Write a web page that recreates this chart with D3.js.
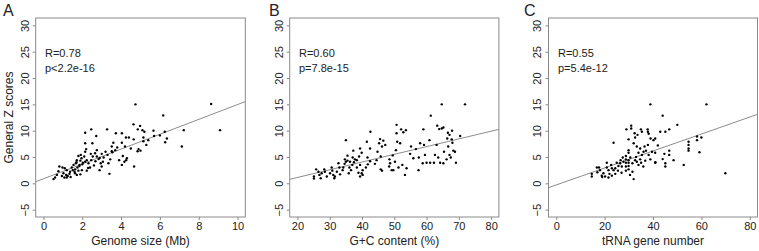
<!DOCTYPE html>
<html><head><meta charset="utf-8">
<script src="https://cdn.jsdelivr.net/npm/d3@7"></script>
<style>
html,body{margin:0;padding:0;background:#fff;}
svg{display:block;font-family:"Liberation Sans",Arial,sans-serif;}
</style></head>
<body><svg id="chart" width="759" height="251"></svg>
<script>
// ---- data ----
const genomeSize = [4.74,8.64,6.17,9.1,7.23,7.13,6.27,6.36,6.0,5.7,5.67,5.4,5.15,5.15,5.1,5.2,4.98,4.64,4.86,4.9,4.85,4.65,4.67,4.4,4.25,4.2,4.04,4.3,4.17,4.09,4.26,4.04,3.9,3.73,4.04,3.7,3.6,3.44,3.35,3.28,3.4,3.52,3.52,3.1,3.0,3.06,2.95,2.84,2.75,2.68,2.66,2.75,2.54,2.46,2.44,2.52,2.72,2.46,2.15,2.15,2.2,2.15,2.1,2.23,2.32,2.4,2.15,2.03,1.96,1.9,1.86,1.8,1.92,1.72,1.67,1.75,1.63,1.55,1.51,1.63,1.72,1.9,1.8,1.98,1.46,1.37,1.2,1.17,1.03,1.08,1.2,0.95,0.98,0.77,0.69,0.6,0.52,0.82,1.1,1.34,2.23,2.89,3.0,6.25,3.2,3.55,2.0,1.85,1.6,1.4,1.25,2.3,2.6,3.8,4.5,5.0,5.3,2.9,3.3,1.7];
const zA = [15.0,15.06,12.9,10.1,10.1,7.0,7.8,8.5,9.1,9.0,10.0,8.2,8.7,8.0,10.1,9.8,10.9,11.2,10.25,6.5,6.1,8.35,3.2,8.7,8.7,7.0,7.7,4.75,4.1,5.2,4.4,3.5,4.4,9.5,9.5,6.3,7.7,4.55,3.8,10.25,1.8,7.0,6.1,4.9,5.6,4.1,3.8,4.6,5.1,4.2,5.7,6.3,5.1,4.4,5.6,7.6,9.0,10.25,9.6,7.6,6.5,6.0,5.1,4.4,3.8,3.0,4.1,3.9,4.75,4.3,3.5,5.2,5.4,4.4,3.8,3.0,2.65,3.5,2.5,1.9,1.6,1.7,2.4,2.5,3.0,2.2,2.5,1.6,1.9,1.1,1.1,1.4,3.0,2.3,1.6,1.1,0.8,3.2,2.85,1.8,2.4,2.5,3.2,9.8,6.0,5.9,3.6,3.3,2.2,1.2,1.4,2.9,3.4,6.8,6.6,6.2,7.3,4.8,5.4,4.0];

const gcContent = [71.9,64.7,61.3,63.3,63.9,64.7,65.2,66.6,67.1,67.9,70.4,59.0,60.9,58.0,59.2,57.6,57.5,55.9,55.2,54.9,56.7,53.8,53.3,52.5,50.7,52.1,53.6,52.8,50.7,50.9,51.8,50.5,49.5,48.5,48.7,48.4,49.2,49.7,51.3,50.2,46.2,47.2,46.6,45.6,45.3,44.8,45.8,44.5,44.0,45.8,46.2,42.6,41.5,42.5,41.7,42.5,41.8,41.2,40.2,39.4,39.9,38.9,40.2,39.4,38.4,38.4,39.1,39.9,37.3,39.4,37.1,37.8,37.5,37.0,36.3,36.1,36.6,35.9,34.7,35.0,35.5,35.0,34.6,34.2,34.0,33.2,33.0,32.2,31.1,31.4,31.6,30.6,30.8,30.1,29.1,28.5,28.3,27.5,26.8,26.5,25.8,25.1,25.1,27.2,32.7,35.5,62.6,61.1,63.6,64.2,65.2,67.1,67.5,68.3,68.8,69.1,66.2,65.4,66.7,68.0,67.8,66.4,63.1,59.5,60.0,58.8,62.3];
const zB = [15.0,15.0,12.85,10.95,10.3,10.4,10.6,9.6,9.2,10.0,9.0,10.25,8.2,7.6,7.3,4.9,2.5,4.75,7.0,5.6,6.5,2.85,1.6,3.5,11.1,10.25,10.1,9.7,9.5,7.9,7.6,6.3,5.3,4.55,3.8,3.2,2.5,2.5,3.0,4.1,7.0,7.3,8.1,8.4,7.6,6.0,5.1,4.4,3.7,2.65,2.4,9.8,7.9,6.6,4.9,4.2,3.6,3.0,1.6,1.3,1.9,2.0,2.5,3.5,3.0,4.4,5.1,5.8,6.2,6.6,4.9,4.55,4.0,3.5,4.1,3.0,2.5,1.9,4.55,4.1,4.3,8.2,3.7,3.0,2.5,1.7,3.0,2.2,1.6,0.95,1.3,3.0,2.4,1.9,1.3,2.2,2.65,1.9,1.6,2.2,2.65,1.3,0.9,0.95,3.8,5.25,5.4,3.9,4.9,3.9,3.8,5.4,4.9,6.2,6.0,3.9,4.55,6.0,7.0,7.7,8.35,8.5,7.3,5.4,3.9,3.8,3.9];

const trnaNumber = [38.9,62.1,44.0,69.9,50.05,46.7,45.1,43.0,37.8,35.0,35.4,31.0,31.0,29.0,32.4,33.6,32.6,37.9,38.2,39.0,40.2,40.9,23.7,29.9,32.0,33.3,34.7,36.1,38.2,37.1,37.9,39.6,40.9,44.0,40.9,38.9,36.8,35.4,34.7,33.3,34.0,35.1,32.6,31.5,30.6,29.9,29.9,29.9,29.9,29.9,29.9,28.8,28.8,28.8,28.8,28.8,27.8,27.5,26.4,26.6,25.7,25.0,24.4,23.7,22.7,23.0,21.6,20.9,20.9,19.5,20.2,18.8,18.1,17.7,17.0,16.8,14.7,14.7,21.6,23.0,24.4,25.5,27.1,32.0,45.1,45.1,48.5,52.7,54.7,54.7,54.7,54.7,58.2,58.2,60.0,59.2,46.7,46.7,44.7,33.0,34.0,31.5,30.5,36.0,42.0,27.0,22.0,19.0,41.0,36.5];
const zC = [15.0,15.0,12.85,1.9,11.1,10.25,9.8,9.8,10.25,10.25,9.8,10.95,10.4,10.25,9.5,9.2,8.7,9.8,9.4,8.5,8.2,8.5,7.7,8.35,7.6,7.0,6.6,6.0,5.4,6.2,7.3,6.0,5.8,4.6,3.9,4.55,4.3,5.4,4.55,4.1,3.5,3.9,4.4,3.8,4.9,5.8,6.3,4.4,3.9,3.3,2.65,4.55,5.2,3.9,3.2,2.4,4.1,4.9,3.8,4.4,3.3,3.9,2.85,2.5,3.5,2.85,2.5,3.0,3.9,1.9,1.3,1.45,2.5,3.0,2.1,3.0,1.8,1.3,1.1,1.45,1.8,2.4,3.2,0.8,3.8,3.2,4.4,3.5,7.9,7.3,6.6,6.2,8.9,8.2,8.7,5.9,6.2,5.4,5.6,5.0,5.8,2.2,1.6,3.2,7.2,2.0,1.8,1.2,4.0,7.0];

const yTicks = [-5,0,5,10,15,20,25,30];
const xTicksA = [0,2,4,6,8,10];
const xTicksB = [20,30,40,50,60,70,80];
const xTicksC = [0,20,40,60,80];
const panelLetters = ["A","B","C"];
const xTitles = ["Genome size (Mb)","G+C content (%)","tRNA gene number"];
const statR = ["R=0.78","R=0.60","R=0.55"];
const statP = ["p<2.2e-16","p=7.8e-15","p=5.4e-12"];
// fitted lines: [intercept, slope]
const fitA = [0.86,1.41], fitB = [-1.82,0.1465], fitC = [-0.31,0.1612];

// ---- layout ----
const svg = d3.select("#chart");
const plotTop = 18, plotBottom = 217;
const panels = [
  {x:genomeSize, y:zA, xdom:[-0.4,10.4], left:35.7, right:245.3, ticks:xTicksA, fit:fitA, letterX:3, statX:45},
  {x:gcContent, y:zB, xdom:[17.6,82.4], left:289.7, right:498.9, ticks:xTicksB, fit:fitB, letterX:269, statX:299},
  {x:trnaNumber, y:zC, xdom:[-3.2,83.2], left:548.5, right:757.5, ticks:xTicksC, fit:fitC, letterX:524, statX:558}
];
const frameCol = "#8a8a8a", textCol = "#222";

panels.forEach((p,i)=>{
  const xs = d3.scaleLinear().domain(p.xdom).range([p.left,p.right]);
  const ys = d3.scaleLinear().domain([-6.4,31.4]).range([plotBottom,plotTop]);
  const g = svg.append("g");
  const cid = "clip"+i;
  svg.append("clipPath").attr("id",cid).append("rect")
    .attr("x",p.left).attr("y",plotTop).attr("width",p.right-p.left).attr("height",plotBottom-plotTop);
  // x axis
  const xa = g.append("g").attr("transform",`translate(0,${plotBottom})`)
    .call(d3.axisBottom(xs).tickValues(p.ticks).tickSize(3).tickPadding(2).tickFormat(d3.format("d")));
  xa.select(".domain").remove();
  xa.selectAll("line").attr("stroke",frameCol);
  xa.selectAll("text").attr("fill",textCol).style("font-size","11px").style("font-family","Liberation Sans, Arial, sans-serif");
  // y axis
  const ya = g.append("g").attr("transform",`translate(${p.left},0)`)
    .call(d3.axisLeft(ys).tickValues(yTicks).tickSize(3).tickFormat(d3.format("d")));
  ya.select(".domain").remove();
  ya.selectAll("line").attr("stroke",frameCol);
  ya.selectAll("text").attr("fill",textCol).style("font-size","11px").style("font-family","Liberation Sans, Arial, sans-serif")
    .attr("text-anchor","middle").attr("x",0).attr("dy",null)
    .attr("transform","translate(-10,0) rotate(-90)").attr("y",0).attr("dominant-baseline","middle");
  // frame
  g.append("rect").attr("x",p.left).attr("y",plotTop).attr("width",p.right-p.left).attr("height",plotBottom-plotTop)
    .attr("fill","none").attr("stroke",frameCol).attr("stroke-width",1);
  // fit line
  g.append("line").attr("clip-path",`url(#${cid})`)
    .attr("x1",xs(p.xdom[0])).attr("y1",ys(p.fit[0]+p.fit[1]*p.xdom[0]))
    .attr("x2",xs(p.xdom[1])).attr("y2",ys(p.fit[0]+p.fit[1]*p.xdom[1]))
    .attr("stroke","#8c8c8c").attr("stroke-width",1);
  // points
  g.selectAll("circle.pt").data(p.x.map((v,k)=>[v,p.y[k]])).join("circle")
    .attr("class","pt")
    .attr("cx",d=>xs(d[0])).attr("cy",d=>ys(d[1])).attr("r",1.2).attr("fill","#000");
  // stats
  g.append("text").attr("x",p.statX).attr("y",57).text(statR[i]).attr("fill",textCol).style("font-size","11px");
  g.append("text").attr("x",p.statX).attr("y",72).text(statP[i]).attr("fill",textCol).style("font-size","11px");
  // x title
  g.append("text").attr("x",(p.left+p.right)/2).attr("y",245).attr("text-anchor","middle")
    .text(xTitles[i]).attr("fill",textCol).style("font-size","12px");
  // panel letter
  g.append("text").attr("x",p.letterX).attr("y",16).text(panelLetters[i]).attr("fill",textCol).style("font-size","16px");
});
// y title
svg.append("text").attr("transform",`translate(13,${(plotTop+plotBottom)/2}) rotate(-90)`).attr("text-anchor","middle")
  .text("General Z scores").attr("fill",textCol).style("font-size","12px");
</script></body></html>
